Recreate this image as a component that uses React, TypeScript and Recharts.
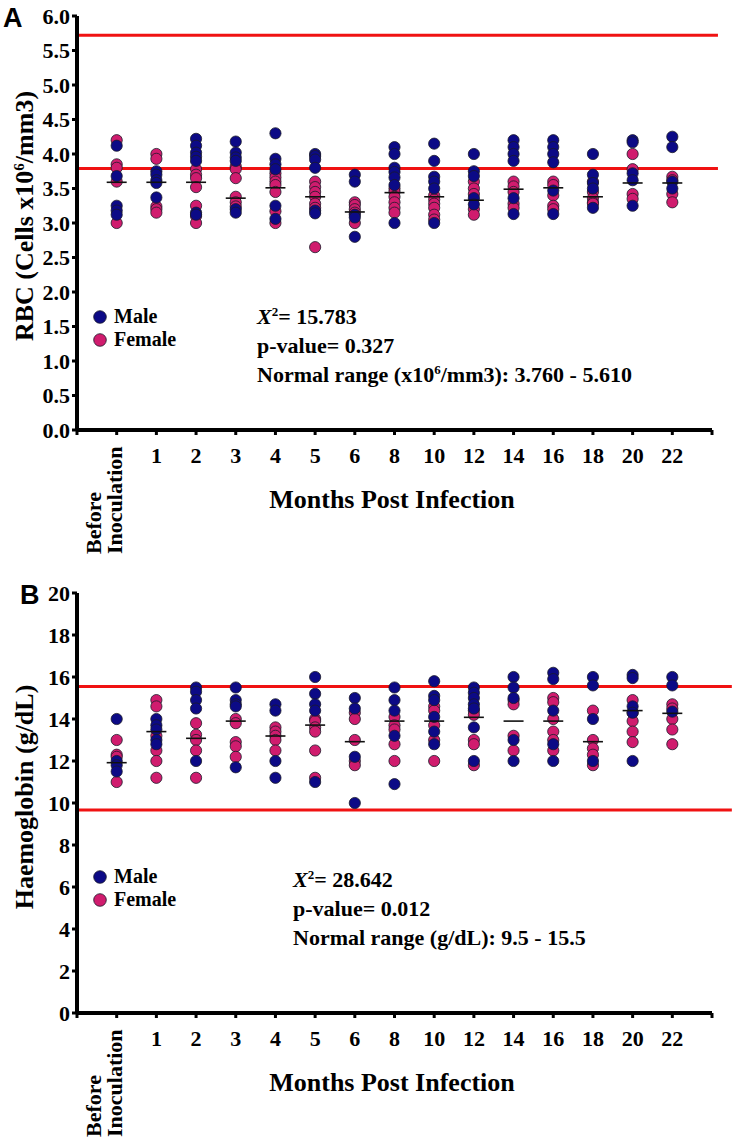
import React from 'react';
import { ScatterChart, Scatter, XAxis, YAxis, ReferenceLine, Legend, Customized } from 'recharts';

// ---------- categories / ticks ----------
const categories = ['Before Inoculation', '1', '2', '3', '4', '5', '6', '8', '10', '12', '14', '16', '18', '20', '22'];
const xTicks = [0, 1, 2, 3, 4, 5, 6, 7, 8, 9, 10, 11, 12, 13, 14, 15, 16];
const yTicksRBC = [0, 0.5, 1, 1.5, 2, 2.5, 3, 3.5, 4, 4.5, 5, 5.5, 6];
const yTicksHb = [0, 2, 4, 6, 8, 10, 12, 14, 16, 18, 20];

// ---------- panel A : RBC (x10^6 / mm3) ----------
const rbcMale: number[][] = [
  [4.12, 3.68, 3.25, 3.18, 3.12],
  [3.75, 3.7, 3.62, 3.58, 3.37],
  [4.22, 4.12, 4.02, 3.96, 3.9, 3.15, 3.12],
  [4.18, 4.02, 3.95, 3.9, 3.2, 3.15],
  [4.3, 3.93, 3.85, 3.78, 3.25, 3.06],
  [4.0, 3.97, 3.92, 3.8, 3.18, 3.14],
  [3.7, 3.6, 3.12, 3.08, 2.8],
  [4.1, 4.0, 3.8, 3.74, 3.66, 3.55, 3.0],
  [4.15, 3.9, 3.67, 3.6, 3.5, 3.0],
  [4.0, 3.75, 3.68, 3.36, 3.27],
  [4.2, 4.1, 4.0, 3.9, 3.36, 3.13],
  [4.2, 4.1, 4.0, 3.88, 3.47, 3.13],
  [4.0, 3.7, 3.58, 3.5, 3.22],
  [4.2, 4.17, 3.72, 3.62, 3.25],
  [4.25, 4.1, 3.6, 3.5],
];
const rbcFemale: number[][] = [
  [4.2, 3.85, 3.8, 3.6, 3.0],
  [4.0, 3.93, 3.24, 3.2, 3.15],
  [3.78, 3.7, 3.65, 3.52, 3.25, 3.1, 3.0],
  [3.82, 3.78, 3.65, 3.38, 3.3, 3.24],
  [3.72, 3.66, 3.6, 3.55, 3.45, 3.17, 3.0],
  [3.6, 3.52, 3.45, 3.38, 3.28, 3.22, 2.65],
  [3.3, 3.26, 3.2, 3.15, 3.0],
  [3.5, 3.45, 3.38, 3.3, 3.22, 3.15],
  [3.4, 3.34, 3.28, 3.22, 3.12, 3.05],
  [3.6, 3.5, 3.42, 3.2, 3.12],
  [3.6, 3.53, 3.45, 3.28, 3.22],
  [3.6, 3.55, 3.4, 3.25, 3.2],
  [3.6, 3.45, 3.36, 3.3, 3.28],
  [4.0, 3.78, 3.42, 3.35],
  [3.67, 3.62, 3.42, 3.3],
];
const rbcMean = [3.59, 3.59, 3.59, 3.36, 3.51, 3.38, 3.16, 3.44, 3.38, 3.33, 3.49, 3.51, 3.38, 3.58, 3.58];
const rbcRangeLines = [3.79, 5.72];

// ---------- panel B : Haemoglobin (g/dL) ----------
const hbMale: number[][] = [
  [14.0, 12.0, 11.8, 11.5],
  [14.0, 13.7, 13.5, 13.0, 12.8],
  [15.5, 15.3, 14.9, 14.5, 12.0],
  [15.5, 14.9, 14.7, 14.6, 11.7],
  [14.7, 14.4, 12.0, 11.2],
  [16.0, 15.2, 14.7, 14.4, 11.0],
  [15.0, 14.5, 12.2, 10.0],
  [15.5, 14.9, 14.4, 13.2, 10.9],
  [15.8, 15.1, 14.9, 14.1, 13.4, 12.8],
  [15.5, 15.25, 15.0, 14.7, 14.5, 13.6, 12.0],
  [16.0, 15.5, 15.0, 13.0, 12.0],
  [16.2, 15.9, 14.4, 12.8, 12.0],
  [16.0, 15.6, 14.0, 12.0],
  [16.1, 15.95, 14.6, 14.3, 12.0],
  [16.0, 15.6, 14.35],
];
const hbFemale: number[][] = [
  [13.0, 12.3, 12.2, 11.0],
  [14.9, 14.6, 13.2, 12.5, 12.0, 11.2],
  [13.8, 13.25, 13.0, 12.5, 11.2],
  [14.0, 13.8, 12.9, 12.7, 12.2],
  [13.6, 13.4, 13.2, 13.0, 12.5],
  [14.0, 13.9, 13.6, 13.4, 12.5, 11.2],
  [14.3, 14.0, 13.0, 12.0, 11.8],
  [14.1, 13.7, 13.5, 12.8, 12.0],
  [14.6, 14.4, 13.7, 13.0, 12.0],
  [14.4, 14.2, 13.0, 12.8, 11.8],
  [14.9, 14.7, 13.2, 12.5],
  [15.0, 14.8, 14.0, 13.4, 13.0, 12.5],
  [14.4, 13.0, 12.6, 12.3, 11.8],
  [14.9, 14.3, 13.9, 13.4, 12.9],
  [14.7, 14.5, 14.0, 13.5, 12.8],
];
const hbMean = [11.92, 13.4, 13.08, 13.9, 13.19, 13.71, 12.92, 13.9, 13.9, 14.08, 13.9, 13.9, 12.92, 14.4, 14.27];
const hbRangeLines = [9.67, 15.55];

// ---------- styling ----------
const MALE = '#0c0a86';
const FEMALE = '#d01c6e';
const RED = '#f01212';
const SERIF = '"Liberation Serif", "Times New Roman", serif';
const SANS = '"Liberation Sans", Arial, sans-serif';
const legendOrder = ['Male', 'Female'];

const toPoints = (cols: number[][]) => cols.flatMap((col, i) => col.map((v) => ({ x: i + 1, y: v })));
const toMeans = (vals: number[]) => vals.map((v, i) => ({ x: i + 1, y: v }));

const dot = (color: string) => (p: any) => (
  <circle cx={p.cx} cy={p.cy} r={5.6} fill={color} stroke="#1b1b2a" strokeWidth={0.8} />
);
const meanShape = (p: any) => (
  <line x1={p.cx - 10} x2={p.cx + 10} y1={p.cy} y2={p.cy} stroke="#111" strokeWidth={1.6} />
);

const XTick = (props: any) => {
  const { x, y, payload } = props;
  const idx = payload.value - 1;
  if (idx < 0 || idx >= categories.length) return null;
  const label = categories[idx];
  if (idx === 0) {
    const [l1, l2] = label.split(' ');
    const by = y + 117;
    return (
      <g>
        <text transform={`translate(${x - 16},${by}) rotate(-90)`} fontFamily={SERIF} fontWeight={700} fontSize={22} fill="#000">{l1}</text>
        <text transform={`translate(${x + 5},${by}) rotate(-90)`} fontFamily={SERIF} fontWeight={700} fontSize={22} fill="#000">{l2}</text>
      </g>
    );
  }
  return (
    <text x={x} y={y + 26} textAnchor="middle" fontFamily={SERIF} fontWeight={700} fontSize={22} fill="#000">{label}</text>
  );
};

const LegendBox = (props: any) => {
  const items = [...(props.payload || [])]
    .filter((it: any) => legendOrder.includes(it.value))
    .sort((a: any, b: any) => legendOrder.indexOf(a.value) - legendOrder.indexOf(b.value));
  return (
    <div style={{ fontFamily: SERIF, fontWeight: 700, fontSize: 20, color: '#000' }}>
      {items.map((it: any) => (
        <div key={it.value} style={{ display: 'flex', alignItems: 'center', height: 23, whiteSpace: 'nowrap' }}>
          <svg width={14} height={14} style={{ marginRight: 7, flex: 'none' }}>
            <circle cx={7} cy={7} r={6.3} fill={it.color} stroke="#1b1b2a" strokeWidth={0.8} />
          </svg>
          <span style={{ lineHeight: '23px' }}>{it.value}</span>
        </div>
      ))}
    </div>
  );
};

type PanelProps = {
  letter: string;
  letterX: number;
  height: number;
  top: number;
  xAxisHeight: number;
  yDomain: [number, number];
  yTicks: number[];
  yFormat: (v: number) => string;
  male: number[][];
  female: number[][];
  means: number[];
  lines: number[];
  lineEnd: number;
  yTitle: React.ReactNode;
  yTitleY: number;
  stats: string[];
  rangeLine: React.ReactNode;
  statsX: number;
  statsY: number;
  legendTop: number;
};

const Panel = (p: PanelProps) => {
  const plotBottom = p.height - p.xAxisHeight;
  return (
    <ScatterChart width={735} height={p.height} margin={{ top: p.top, right: 23, bottom: 0, left: 0 }}>
      <XAxis
        type="number"
        dataKey="x"
        domain={[0, 16]}
        ticks={xTicks}
        interval={0}
        height={p.xAxisHeight}
        axisLine={{ stroke: '#000', strokeWidth: 4 }}
        tickLine={{ stroke: '#000', strokeWidth: 3 }}
        tickSize={5}
        tick={<XTick />}
      />
      <YAxis
        type="number"
        dataKey="y"
        domain={p.yDomain}
        ticks={p.yTicks}
        interval={0}
        width={77}
        axisLine={{ stroke: '#000', strokeWidth: 4 }}
        tickLine={{ stroke: '#000', strokeWidth: 3 }}
        tickSize={5}
        tickFormatter={p.yFormat}
        tick={{ fill: '#000', fontSize: 22, fontWeight: 700, fontFamily: SERIF }}
      />
      {p.lines.map((v) => (
        <ReferenceLine
          key={v}
          segment={[{ x: 0, y: v }, { x: p.lineEnd, y: v }]}
          ifOverflow="visible"
          stroke={RED}
          strokeWidth={3}
        />
      ))}
      <Scatter name="Female" data={toPoints(p.female)} fill={FEMALE} shape={dot(FEMALE)} isAnimationActive={false} />
      <Scatter name="Male" data={toPoints(p.male)} fill={MALE} shape={dot(MALE)} isAnimationActive={false} />
      <Scatter name="Mean" data={toMeans(p.means)} fill="#111" shape={meanShape} legendType="none" isAnimationActive={false} />
      <Legend
        layout="horizontal"
        verticalAlign="middle"
        align="center"
        content={<LegendBox />}
        wrapperStyle={{ left: 93, top: p.legendTop, width: 'auto', height: 'auto' }}
      />
      <Customized
        component={() => (
          <g>
            <text x={p.letterX} y={p.top + 11} fontFamily={SANS} fontWeight={700} fontSize={27} fill="#000">{p.letter}</text>
            <text
              transform={`translate(33,${p.yTitleY}) rotate(-90)`}
              textAnchor="middle"
              fontFamily={SERIF}
              fontWeight={700}
              fontSize={26}
              fill="#000"
            >
              {p.yTitle}
            </text>
            <text x={392} y={plotBottom + 78} textAnchor="middle" fontFamily={SERIF} fontWeight={700} fontSize={26} fill="#000">
              Months Post Infection
            </text>
            <g fontFamily={SERIF} fontWeight={700} fontSize={22} fill="#000">
              <text x={p.statsX} y={p.statsY}>
                <tspan fontStyle="italic">X</tspan>
                <tspan dy={-8} fontSize={13}>2</tspan>
                <tspan dy={8}>{p.stats[0]}</tspan>
              </text>
              <text x={p.statsX} y={p.statsY + 29}>{p.stats[1]}</text>
              <text x={p.statsX} y={p.statsY + 58}>{p.rangeLine}</text>
            </g>
          </g>
        )}
      />
    </ScatterChart>
  );
};

export default function App() {
  return (
    <div style={{ position: 'absolute', left: 0, top: 0, width: 735, height: 1141, background: '#fff' }}>
      <Panel
        letter="A"
        letterX={3}
        height={560}
        top={16}
        xAxisHeight={130}
        yDomain={[0, 6]}
        yTicks={yTicksRBC}
        yFormat={(v) => v.toFixed(1)}
        male={rbcMale}
        female={rbcFemale}
        means={rbcMean}
        lines={rbcRangeLines}
        lineEnd={16.15}
        yTitle={
          <>
            RBC (Cells x10<tspan dy={-9} fontSize={15}>6</tspan>
            <tspan dy={9}>/mm3)</tspan>
          </>
        }
        yTitleY={216}
        statsX={257}
        statsY={324}
        stats={['= 15.783', 'p-value= 0.327']}
        rangeLine={
          <>
            Normal range (x10<tspan dy={-8} fontSize={13}>6</tspan>
            <tspan dy={8}>/mm3): 3.760 - 5.610</tspan>
          </>
        }
        legendTop={305}
      />
      <Panel
        letter="B"
        letterX={20}
        height={581}
        top={33}
        xAxisHeight={128}
        yDomain={[0, 20]}
        yTicks={yTicksHb}
        yFormat={(v) => String(v)}
        male={hbMale}
        female={hbFemale}
        means={hbMean}
        lines={hbRangeLines}
        lineEnd={16.5}
        yTitle={<>Haemoglobin (g/dL)</>}
        yTitleY={237}
        statsX={293}
        statsY={327}
        stats={['= 28.642', 'p-value= 0.012']}
        rangeLine={<>Normal range (g/dL): 9.5 - 15.5</>}
        legendTop={305}
      />
    </div>
  );
}
